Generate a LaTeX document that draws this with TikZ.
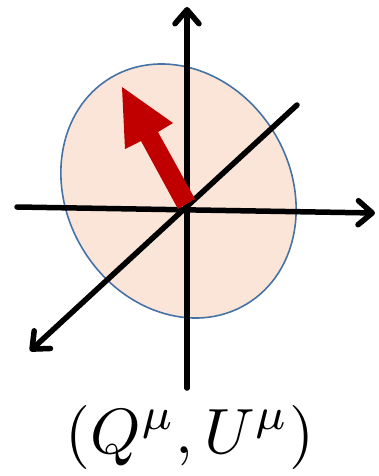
\documentclass[tikz,border=0pt]{standalone}
\usepackage{graphicx}
\usetikzlibrary{arrows.meta}
\definecolor{ellfill}{RGB}{250,229,216}
\definecolor{ellline}{RGB}{70,115,165}
\definecolor{vecred}{RGB}{192,0,0}
\tikzset{
  axis/.style={line width=5.5pt, line cap=round, -{Straight Barb[length=14pt,width=24pt,line cap=round,line join=round]}},
}
\begin{document}
\begin{tikzpicture}[x=1pt,y=-1pt]
\useasboundingbox (0,0) rectangle (378,476);
\coordinate (C) at (178.5,191);
\draw[ellline, fill=ellfill, line width=1.6pt, rotate around={-59:(C)}] (C) ellipse [x radius=132pt, y radius=112pt];
% axes
\coordinate (xl) at (17,207);
\coordinate (xr) at (375,213);
\coordinate (yb) at (187,388);
\coordinate (yt) at (187,7);
\coordinate (zt) at (297,105);
\coordinate (zb) at (30,351);
\draw[axis] (xl) -- (xr);
\draw[axis] (yb) -- (yt);
\draw[axis] (zt) -- (zb);
% red vector
\coordinate (tip) at (122,87);
\fill[vecred] (178,209) -- (195,199) -- (158,132) -- (173,123) -- (tip) -- (125,149) -- (141,141) -- cycle;
\node (lab) at (190,437) {\scalebox{6.4}{$(Q^\mu,U^\mu)$}};
\end{tikzpicture}
\end{document}
